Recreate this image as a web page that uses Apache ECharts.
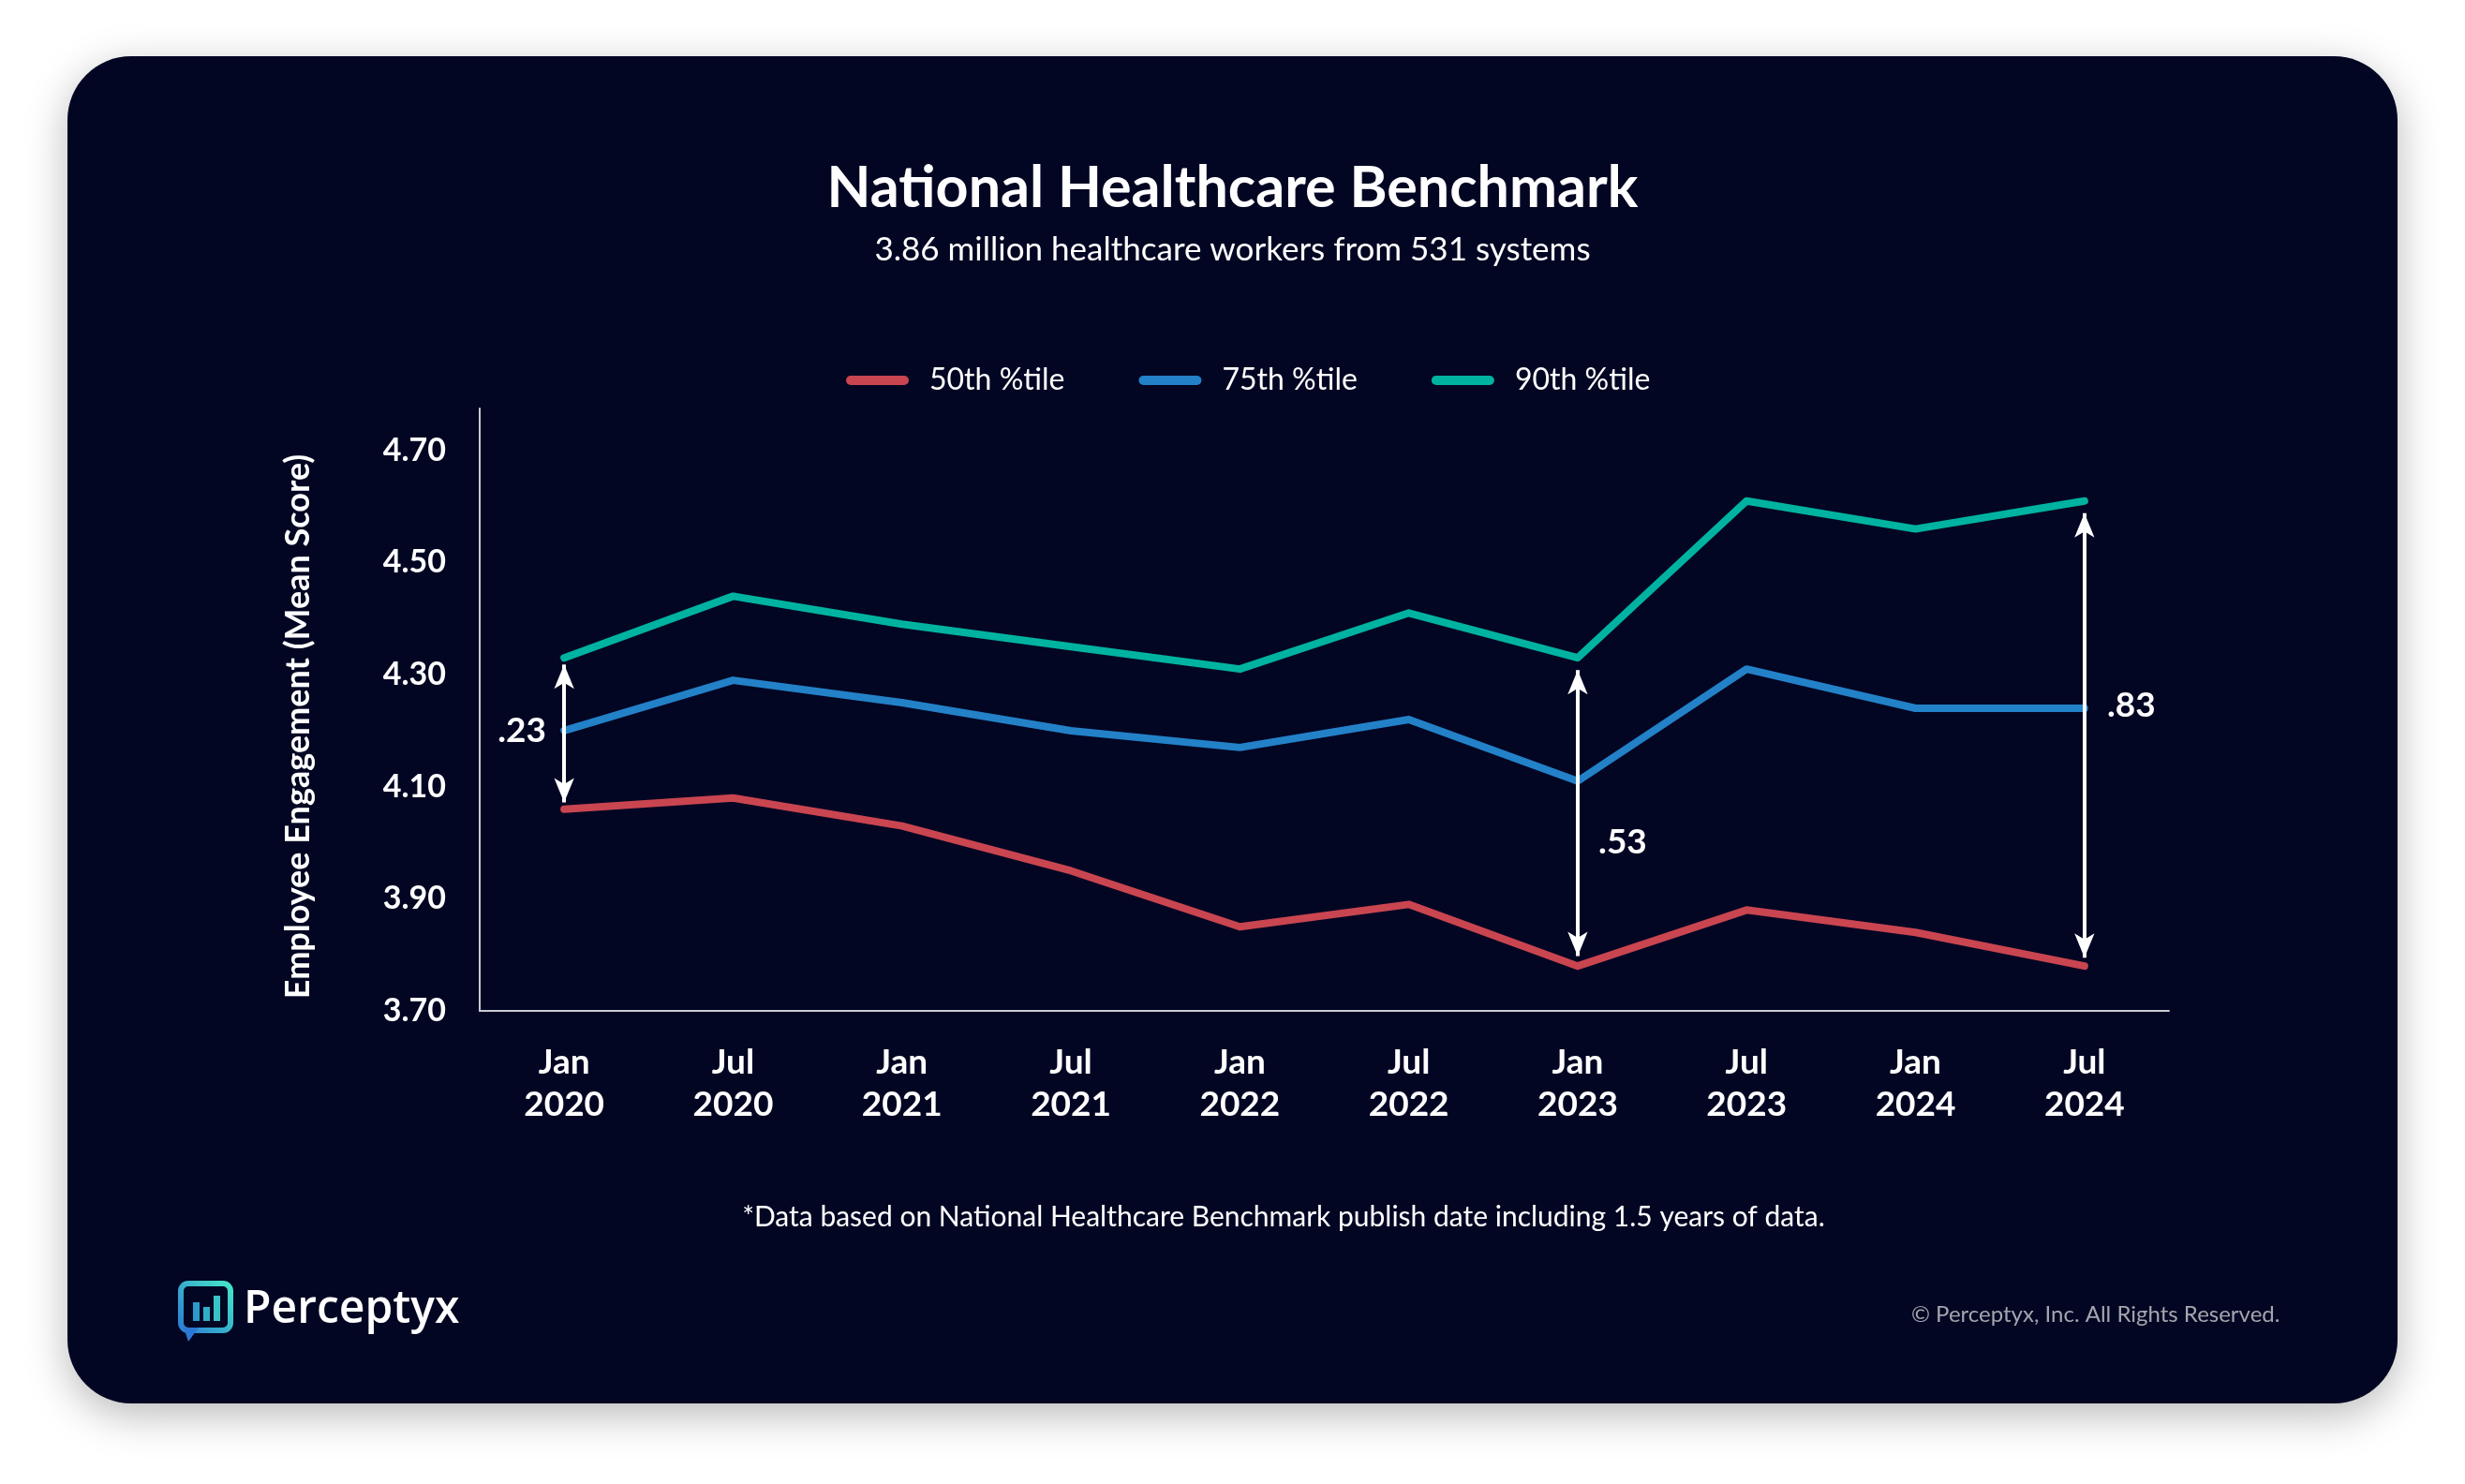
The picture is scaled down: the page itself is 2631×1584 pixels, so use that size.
<!DOCTYPE html>
<html><head><meta charset="utf-8">
<script src="https://cdn.jsdelivr.net/npm/echarts/dist/echarts.min.js"></script>
<style>html,body{margin:0;padding:0;background:#fff;}#c{width:2631px;height:1584px;}</style>
</head><body><div id="c"></div>
<script>
const categories = ['Jan\n2020','Jul\n2020','Jan\n2021','Jul\n2021','Jan\n2022','Jul\n2022','Jan\n2023','Jul\n2023','Jan\n2024','Jul\n2024'];
const seriesNames = ['50th %tile','75th %tile','90th %tile'];
const p50 = [4.06,4.08,4.03,3.95,3.85,3.89,3.78,3.88,3.84,3.78];
const p75 = [4.20,4.29,4.25,4.20,4.17,4.22,4.11,4.31,4.24,4.24];
const p90 = [4.33,4.44,4.39,4.35,4.31,4.41,4.33,4.61,4.56,4.61];
const yTicks = [3.70,3.90,4.10,4.30,4.50,4.70];
// gap annotations: category index, arrow top value, arrow bottom value, label, label value
const gapCats = [0,6,9];
const gapTop = [4.318,4.308,4.588];
const gapBottom = [4.072,3.798,3.795];
const gapLabels = ['.23','.53','.83'];
const gapLabelAt = [4.20,4.00,4.245];

const FONT = 'Lato, "Open Sans", sans-serif';
const colors = ['#C94550','#2381C8','#00B3A1'];
const chart = echarts.init(document.getElementById('c'), null, {renderer:'canvas'});

const labelOffsets = [[-45,0],[48,0],[50,0]];

const option = {
  backgroundColor:'#ffffff',
  animation:false,
  color: colors,
  title:{
    text:'National Healthcare Benchmark',
    subtext:'3.86 million healthcare workers from 531 systems',
    left:'center', top:166, itemGap:17,
    textStyle:{color:'#fff', fontFamily:FONT, fontWeight:'bold', fontSize:61, lineHeight:61},
    subtextStyle:{color:'#fff', fontFamily:FONT, fontSize:35, lineHeight:35}
  },
  legend:{
    data: seriesNames,
    left:898, top:385,
    itemWidth:67, itemHeight:10, itemGap:79,
    icon:'path://M5,0 H62 A5,5 0 0 1 62,10 H5 A5,5 0 0 1 5,0 Z',
    textStyle:{color:'#fff', fontFamily:FONT, fontSize:32, padding:[0,0,0,17]}
  },
  grid:{left:512, right:316, top:436, bottom:505, containLabel:false},
  xAxis:{
    type:'category', data:categories, boundaryGap:true,
    axisLine:{show:true, lineStyle:{color:'#C9CAD3', width:2}},
    axisTick:{show:false},
    axisLabel:{color:'#fff', fontFamily:FONT, fontWeight:'bold', fontSize:37, lineHeight:45, margin:33}
  },
  yAxis:{
    type:'value', min:3.7, max:4.775, interval:0.2,
    name:'Employee Engagement (Mean Score)', nameLocation:'middle', nameGap:176, nameRotate:90,
    nameTextStyle:{color:'#fff', fontFamily:FONT, fontWeight:'bold', fontSize:36, padding:[0,36,0,0]},
    axisLine:{show:true, lineStyle:{color:'#C9CAD3', width:2}},
    axisTick:{show:false},
    splitLine:{show:false},
    axisLabel:{color:'#fff', fontFamily:FONT, fontWeight:'bold', fontSize:34, margin:36, showMaxLabel:false,
      formatter: v => v.toFixed(2)}
  },
  series:[
    {name:seriesNames[0], type:'line', data:p50, symbol:'none', z:3,
      lineStyle:{width:8, color:colors[0], cap:'round', join:'round'},
      markLine:{
        silent:true, symbol:['arrow','arrow'], symbolSize:[16,26], precision:3,
        label:{show:false},
        lineStyle:{color:'#ffffff', width:4, type:'solid'},
        emphasis:{disabled:true},
        data: gapCats.map((c,i)=>[{coord:[c,gapTop[i]]},{coord:[c,gapBottom[i]]}])
      },
      markPoint:{
        silent:true, symbol:'circle', symbolSize:1, itemStyle:{color:'rgba(0,0,0,0)'},
        label:{show:true, color:'#fff', fontFamily:FONT, fontWeight:'bold', fontSize:37, formatter:'{b}'},
        data: gapCats.map((c,i)=>({name:gapLabels[i], coord:[c,gapLabelAt[i]], label:{offset:labelOffsets[i]}}))
      }
    },
    {name:seriesNames[1], type:'line', data:p75, symbol:'none', z:3,
      lineStyle:{width:8, color:colors[1], cap:'round', join:'round'}},
    {name:seriesNames[2], type:'line', data:p90, symbol:'none', z:3,
      lineStyle:{width:8, color:colors[2], cap:'round', join:'round'}}
  ],
  graphic:[
    {type:'rect', z:-10, silent:true,
      shape:{x:72, y:60, width:2487, height:1438, r:68},
      style:{fill:'#020623', shadowBlur:45, shadowColor:'rgba(0,0,0,0.28)', shadowOffsetY:12}},
    {type:'text', z:5, silent:true, x:1370, y:1299,
      style:{text:'*Data based on National Healthcare Benchmark publish date including 1.5 years of data.',
        fill:'#fff', font:'30px '+FONT, textAlign:'center', textVerticalAlign:'middle'}},
    {type:'text', z:5, silent:true, x:2040, y:1403,
      style:{text:'\u00A9 Perceptyx, Inc. All Rights Reserved.', fill:'#A4A5AE', font:'24px '+FONT, textVerticalAlign:'middle'}},
    {type:'group', z:5, left:190, top:1367, silent:true, children:[
      {type:'rect', shape:{x:3, y:3, width:53, height:50, r:8},
        style:{fill:'none', lineWidth:6, stroke:new echarts.graphic.LinearGradient(0,1,1,0,[{offset:0,color:'#2B78D4'},{offset:1,color:'#45EBC6'}])}},
      {type:'polygon', shape:{points:[[6,50],[22,50],[11,65]]},
        style:{fill:'#2B78D4'}},
      {type:'rect', shape:{x:16, y:23, width:7, height:20}, style:{fill:'#2C9BCB'}},
      {type:'rect', shape:{x:27, y:28, width:7, height:15}, style:{fill:'#30AFC9'}},
      {type:'rect', shape:{x:38, y:16, width:7, height:27}, style:{fill:'#38C4C7'}}
    ]},
    {type:'text', z:5, silent:true, left:260, top:1374,
      style:{text:'Perceptyx', fill:'#fff', font:'600 48px "Open Sans", sans-serif'}}
  ]
};
chart.setOption(option);
</script>
</body></html>
